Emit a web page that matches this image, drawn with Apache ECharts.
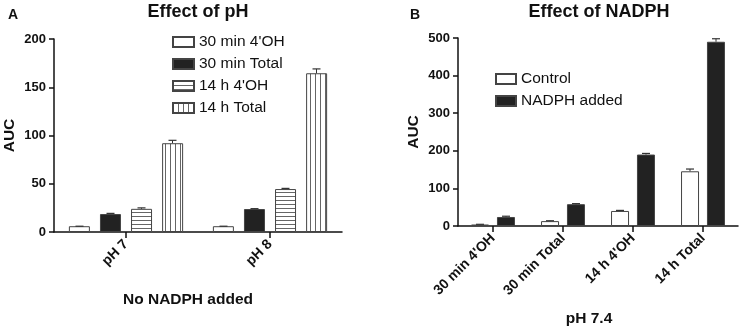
<!DOCTYPE html>
<html>
<head>
<meta charset="utf-8">
<script src="https://cdn.jsdelivr.net/npm/echarts@6/dist/echarts.min.js"></script>
<style>
  html, body { margin: 0; padding: 0; background: #fff; }
  #chart { width: 744px; height: 329px; }
</style>
</head>
<body>
<div id="chart"></div>
<script>
// panel A
const phCats = ['pH 7', 'pH 8'];
const phNames = ["30 min 4'OH", '30 min Total', "14 h 4'OH", '14 h Total'];
const phVals = [
    [6, 6],
    [18.6, 23.8],
    [24, 44.5],
    [92, 164.5]
];
const phErr = [
    [6, 6],
    [19.3, 24.2],
    [25, 45.2],
    [95, 169]
];

// panel B
const nCats = ["30 min 4'OH", '30 min Total', "14 h 4'OH", '14 h Total'];
const nNames = ['Control', 'NADPH added'];
const nVals = [
    [4, 13, 40, 145.5],
    [24, 58, 190, 490]
];
const nErr = [
    [4.5, 14, 41.5, 151.5],
    [26, 59.5, 193, 498]
];

function stripes(horiz) {
    const c = document.createElement('canvas');
    c.width = horiz ? 8 : 5;
    c.height = horiz ? 4 : 8;
    const g = c.getContext('2d');
    g.fillStyle = '#fff';
    g.fillRect(0, 0, c.width, c.height);
    g.fillStyle = '#666';
    if (horiz) g.fillRect(0, 0, c.width, 1);
    else g.fillRect(0, 0, 1, c.height);
    return { image: c, repeat: 'repeat' };
}

const fills = ['#fff', '#222', stripes(true), stripes(false)];
const font = 'Liberation Sans, Arial, sans-serif';

function errSeries(xi, yi, errs, vals, n, bw, gap) {
    return errs.map((arr, s) => ({
        type: 'custom',
        xAxisIndex: xi,
        yAxisIndex: yi,
        silent: true,
        z: 5,
        data: arr.map((e, i) => [i, vals[s][i], e]),
        renderItem: function (params, api) {
            const off = (s - (n - 1) / 2) * (bw + gap);
            const top = api.coord([api.value(0), api.value(2)]);
            const base = api.coord([api.value(0), api.value(1)]);
            const x = top[0] + off;
            return {
                type: 'group',
                children: [
                    { type: 'line', shape: { x1: x, y1: base[1], x2: x, y2: top[1] }, style: { stroke: '#333', lineWidth: 1 } },
                    { type: 'line', shape: { x1: x - 4, y1: top[1], x2: x + 4, y2: top[1] }, style: { stroke: '#333', lineWidth: 1.2 } }
                ]
            };
        }
    }));
}

const axisStyle = { lineStyle: { color: '#111', width: 1.5 } };
const tickStyle = { show: true, length: 5, lineStyle: { color: '#111', width: 1.5 } };
const lblStyle = { color: '#111', fontWeight: 'bold', fontSize: 13, fontFamily: font };
const xLblStyle = { color: '#111', fontWeight: 'bold', fontSize: 14, fontFamily: font };
const nameFont = 'bold 15.5px ' + font;

const series = [];
phNames.forEach((nm, s) => {
    series.push({
        name: nm, type: 'bar', xAxisIndex: 0, yAxisIndex: 0,
        barWidth: 21, barGap: '48%',
        itemStyle: { color: fills[s], borderColor: '#444', borderWidth: 1 },
        data: phVals[s]
    });
});
nNames.forEach((nm, s) => {
    series.push({
        name: nm, type: 'bar', xAxisIndex: 1, yAxisIndex: 1,
        barWidth: 18, barGap: '44%',
        itemStyle: { color: fills[s], borderColor: '#444', borderWidth: 1 },
        data: nVals[s]
    });
});
series.push(...errSeries(0, 0, phErr, phVals, 4, 21, 10));
series.push(...errSeries(1, 1, nErr, nVals, 2, 18, 8));

const chart = echarts.init(document.getElementById('chart'));
chart.setOption({
    animation: false,
    title: [
        { text: 'Effect of pH', left: 193, top: -2, textAlign: 'center', textStyle: { fontSize: 18, fontWeight: 'bold', fontFamily: font, color: '#111' } },
        { text: 'Effect of NADPH', left: 594, top: -2, textAlign: 'center', textStyle: { fontSize: 18, fontWeight: 'bold', fontFamily: font, color: '#111' } },
        { text: 'A', left: 3, top: 3, textStyle: { fontSize: 14, fontWeight: 'bold', fontFamily: font, color: '#111' } },
        { text: 'B', left: 405, top: 3, textStyle: { fontSize: 14, fontWeight: 'bold', fontFamily: font, color: '#111' } }
    ],
    graphic: [
        { type: 'text', style: { text: 'No NADPH added', font: nameFont, fill: '#111', x: 188, y: 300, align: 'center', verticalAlign: 'middle' } },
        { type: 'text', style: { text: 'pH 7.4', font: nameFont, fill: '#111', x: 589, y: 319, align: 'center', verticalAlign: 'middle' } }
    ],
    legend: [
        { data: phNames, orient: 'vertical', left: 167, top: 29, icon: 'rect', itemWidth: 21, itemHeight: 10, itemGap: 6,
          textStyle: { fontSize: 15.5, fontFamily: font, color: '#111' } },
        { data: nNames, orient: 'vertical', left: 490, top: 66, icon: 'rect', itemWidth: 20, itemHeight: 10, itemGap: 6,
          textStyle: { fontSize: 15.5, fontFamily: font, color: '#111' } }
    ],
    grid: [
        { left: 54, right: 402, top: 39, bottom: 97, outerBoundsMode: 'none' },
        { left: 458, right: 6, top: 38, bottom: 103, outerBoundsMode: 'none' }
    ],
    xAxis: [
        { type: 'category', gridIndex: 0, data: phCats, axisLine: axisStyle,
          axisTick: { show: true, alignWithLabel: true, length: 6, lineStyle: { color: '#111', width: 1.5 } },
          axisLabel: Object.assign({ rotate: 45, margin: 10 }, xLblStyle) },
        { type: 'category', gridIndex: 1, data: nCats, axisLine: axisStyle,
          axisTick: { show: true, alignWithLabel: true, length: 6, lineStyle: { color: '#111', width: 1.5 } },
          axisLabel: Object.assign({ rotate: 45, margin: 10 }, xLblStyle) }
    ],
    yAxis: [
        { type: 'value', gridIndex: 0, min: 0, max: 200, interval: 50, splitLine: { show: false },
          axisLine: Object.assign({ show: true }, axisStyle), axisTick: tickStyle,
          axisLabel: Object.assign({ margin: 8 }, lblStyle),
          name: 'AUC', nameLocation: 'middle', nameGap: 36,
          nameTextStyle: { color: '#111', fontWeight: 'bold', fontSize: 15.5, fontFamily: font } },
        { type: 'value', gridIndex: 1, min: 0, max: 500, interval: 100, splitLine: { show: false },
          axisLine: Object.assign({ show: true }, axisStyle), axisTick: tickStyle,
          axisLabel: Object.assign({ margin: 8 }, lblStyle),
          name: 'AUC', nameLocation: 'middle', nameGap: 36,
          nameTextStyle: { color: '#111', fontWeight: 'bold', fontSize: 15.5, fontFamily: font } }
    ],
    series: series
});
</script>
</body>
</html>
